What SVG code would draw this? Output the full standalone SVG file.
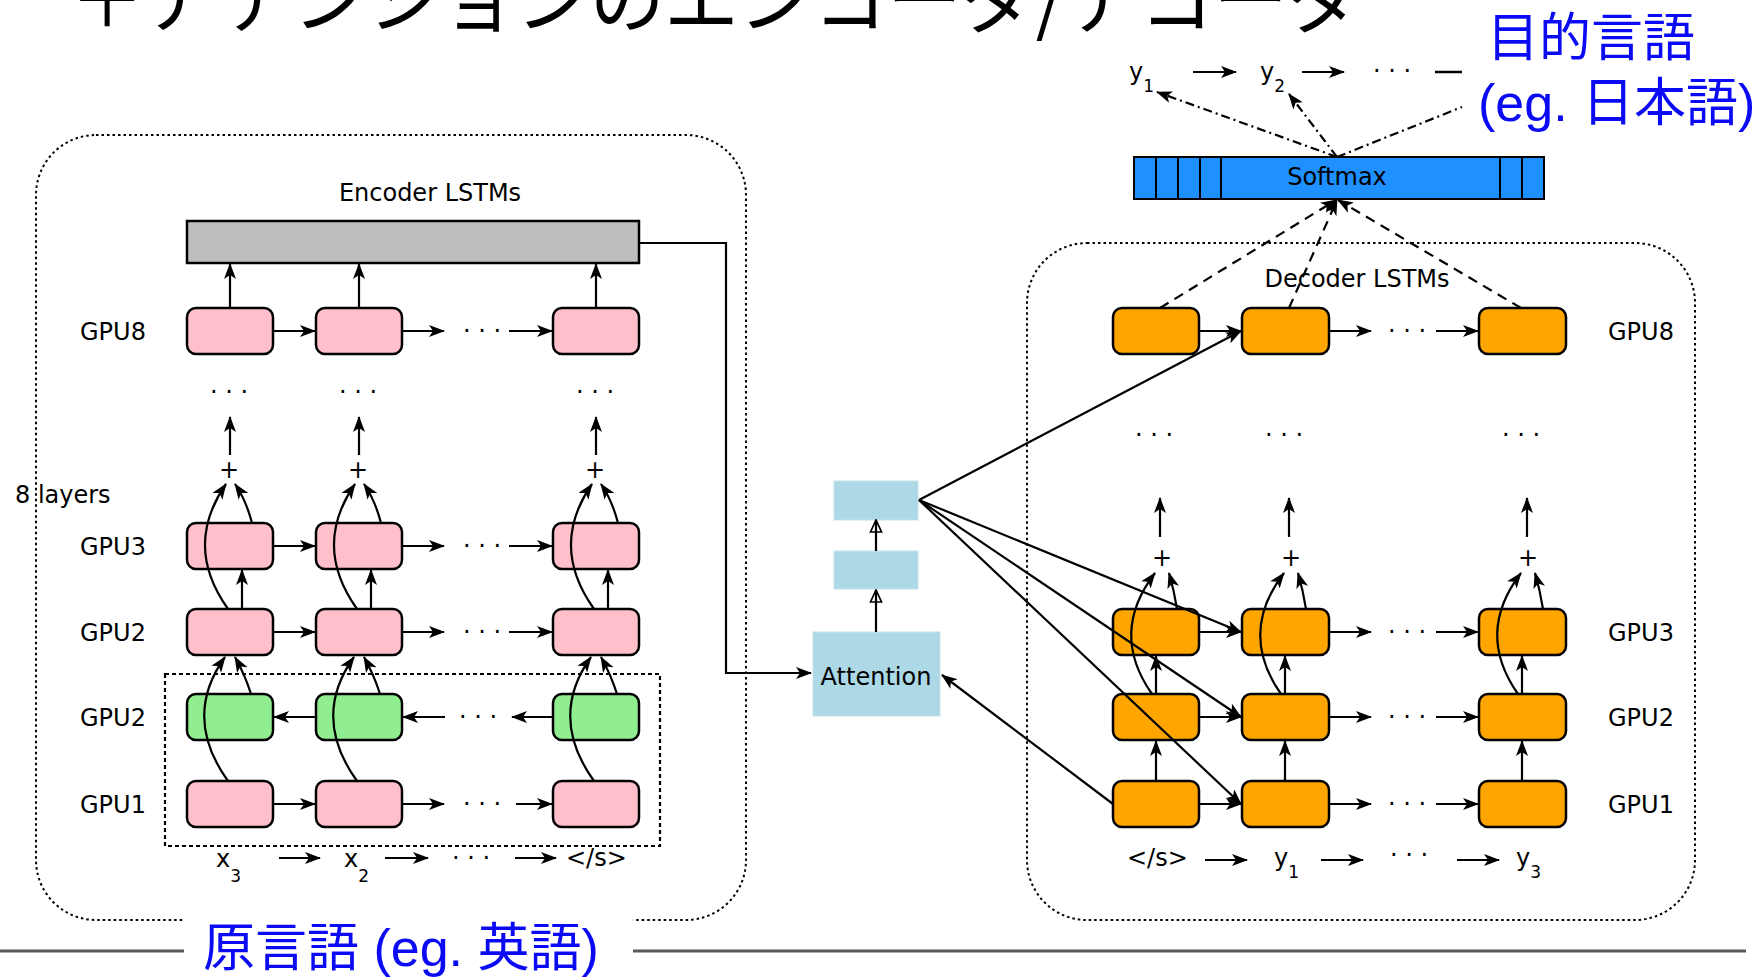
<svg xmlns="http://www.w3.org/2000/svg" width="1760" height="978" viewBox="0 0 1760 978">
<defs>
<style>
.lbl{font-family:"DejaVu Sans",sans-serif;font-size:24px;fill:#000}
.sub{font-size:17px}
.mid{text-anchor:middle}
.title{font-family:"Noto Sans CJK JP",sans-serif;font-size:76px;fill:#000}
.blue{font-family:"Liberation Sans","Noto Sans CJK JP",sans-serif;font-size:52px;fill:#0a0af5}
.pink{fill:#ffc0cb;stroke:#000;stroke-width:2.5}
.green{fill:#90ee90;stroke:#000;stroke-width:2.5}
.orange{fill:#ffa500;stroke:#000;stroke-width:2.5}
.att{fill:#add8e6;stroke:#c3e3ec;stroke-width:1}
.frame{fill:none;stroke:#000;stroke-width:2;stroke-dasharray:2.5 3}
.inner{fill:none;stroke:#000;stroke-width:2.2;stroke-dasharray:4 3}
.c path{fill:none;stroke:#000;stroke-width:2.2}
.c .a{marker-end:url(#ah)}
.c .o{marker-end:url(#oh)}
.c .dash{stroke-dasharray:10 7}
.c .dd{stroke-dasharray:9 4 2 4}
</style>
<marker id="ah" viewBox="0 0 16 12" refX="15" refY="6" markerWidth="16" markerHeight="12" markerUnits="userSpaceOnUse" orient="auto">
<path d="M0,0 L16,6 L0,12 L4,6 z" fill="#000"/>
</marker>
<marker id="oh" viewBox="0 0 14 14" refX="13" refY="7" markerWidth="14" markerHeight="14" markerUnits="userSpaceOnUse" orient="auto">
<path d="M1,1.5 L13,7 L1,12.5 z" fill="none" stroke="#000" stroke-width="1.7"/>
</marker>
</defs>

<rect width="1760" height="978" fill="#fff"/>

<!-- title -->
<text class="title" x="70" y="27" textLength="1292" lengthAdjust="spacingAndGlyphs">＋アテンションのエンコーダ/デコーダ</text>

<!-- encoder frame -->
<g id="encoder-frame">
<rect class="frame" x="36" y="135" width="710" height="785" rx="60" ry="60"/>
<rect class="inner" x="165" y="674" width="495" height="172"/>
<text class="lbl mid" x="430" y="201">Encoder LSTMs</text>
<text class="lbl" x="15" y="503">8 layers</text>
</g>

<!-- decoder frame -->
<g id="decoder-frame">
<rect class="frame" x="1027" y="243" width="668" height="677" rx="60" ry="60"/>
<text class="lbl mid" x="1357" y="287">Decoder LSTMs</text>
</g>

<!-- encoder row labels -->
<g id="enc-labels">
<text class="lbl" x="80" y="340">GPU8</text>
<text class="lbl" x="80" y="555">GPU3</text>
<text class="lbl" x="80" y="641">GPU2</text>
<text class="lbl" x="80" y="726">GPU2</text>
<text class="lbl" x="80" y="813">GPU1</text>
</g>

<!-- decoder row labels -->
<g id="dec-labels">
<text class="lbl" x="1608" y="340">GPU8</text>
<text class="lbl" x="1608" y="641">GPU3</text>
<text class="lbl" x="1608" y="726">GPU2</text>
<text class="lbl" x="1608" y="813">GPU1</text>
</g>

<!-- encoder output bar -->
<g id="enc-output">
<rect x="187" y="221" width="452" height="42" fill="#bebebe" stroke="#000" stroke-width="2.5"/>
</g>

<!-- encoder cells -->
<g id="enc-gpu8">
<rect class="pink" x="187" y="308" width="86" height="46" rx="9"/>
<rect class="pink" x="316" y="308" width="86" height="46" rx="9"/>
<rect class="pink" x="553" y="308" width="86" height="46" rx="9"/>
</g>
<g id="enc-gpu3">
<rect class="pink" x="187" y="523" width="86" height="46" rx="9"/>
<rect class="pink" x="316" y="523" width="86" height="46" rx="9"/>
<rect class="pink" x="553" y="523" width="86" height="46" rx="9"/>
</g>
<g id="enc-gpu2">
<rect class="pink" x="187" y="609" width="86" height="46" rx="9"/>
<rect class="pink" x="316" y="609" width="86" height="46" rx="9"/>
<rect class="pink" x="553" y="609" width="86" height="46" rx="9"/>
</g>
<g id="enc-gpu2-backward">
<rect class="green" x="187" y="694" width="86" height="46" rx="9"/>
<rect class="green" x="316" y="694" width="86" height="46" rx="9"/>
<rect class="green" x="553" y="694" width="86" height="46" rx="9"/>
</g>
<g id="enc-gpu1">
<rect class="pink" x="187" y="781" width="86" height="46" rx="9"/>
<rect class="pink" x="316" y="781" width="86" height="46" rx="9"/>
<rect class="pink" x="553" y="781" width="86" height="46" rx="9"/>
</g>

<!-- decoder cells -->
<g id="dec-gpu8">
<rect class="orange" x="1113" y="308" width="86" height="46" rx="9"/>
<rect class="orange" x="1242" y="308" width="87" height="46" rx="9"/>
<rect class="orange" x="1479" y="308" width="87" height="46" rx="9"/>
</g>
<g id="dec-gpu3">
<rect class="orange" x="1113" y="609" width="86" height="46" rx="9"/>
<rect class="orange" x="1242" y="609" width="87" height="46" rx="9"/>
<rect class="orange" x="1479" y="609" width="87" height="46" rx="9"/>
</g>
<g id="dec-gpu2">
<rect class="orange" x="1113" y="694" width="86" height="46" rx="9"/>
<rect class="orange" x="1242" y="694" width="87" height="46" rx="9"/>
<rect class="orange" x="1479" y="694" width="87" height="46" rx="9"/>
</g>
<g id="dec-gpu1">
<rect class="orange" x="1113" y="781" width="86" height="46" rx="9"/>
<rect class="orange" x="1242" y="781" width="87" height="46" rx="9"/>
<rect class="orange" x="1479" y="781" width="87" height="46" rx="9"/>
</g>

<!-- attention -->
<g id="attention">
<rect class="att" x="813" y="632" width="127" height="84"/>
<text class="lbl mid" x="876" y="685">Attention</text>
</g>
<g id="attention-hidden">
<rect class="att" x="834" y="551" width="84" height="38"/>
</g>
<g id="attention-context">
<rect class="att" x="834" y="481" width="84" height="39"/>
</g>

<!-- softmax -->
<g id="softmax">
<rect x="1134" y="157" width="410" height="42" fill="#1e90ff" stroke="#000" stroke-width="2"/>
<path d="M1156,157V199M1178,157V199M1200,157V199M1221,157V199M1500,157V199M1522,157V199" stroke="#000" stroke-width="2"/>
<text class="lbl mid" x="1337" y="185">Softmax</text>
</g>

<!-- sums and ellipses -->
<g id="enc-residual-marks" class="lbl">
<text class="mid" x="229" y="478">+</text>
<text class="mid" x="358" y="478">+</text>
<text class="mid" x="595" y="478">+</text>
<text class="mid" x="229" y="400">· · ·</text>
<text class="mid" x="358" y="400">· · ·</text>
<text class="mid" x="595" y="400">· · ·</text>
<text class="mid" x="482" y="339">· · ·</text>
<text class="mid" x="482" y="554">· · ·</text>
<text class="mid" x="482" y="640">· · ·</text>
<text class="mid" x="478" y="725">· · ·</text>
<text class="mid" x="482" y="812">· · ·</text>
</g>
<g id="dec-residual-marks" class="lbl">
<text class="mid" x="1162" y="566">+</text>
<text class="mid" x="1291" y="566">+</text>
<text class="mid" x="1528" y="566">+</text>
<text class="mid" x="1154" y="443">· · ·</text>
<text class="mid" x="1284" y="443">· · ·</text>
<text class="mid" x="1521" y="443">· · ·</text>
<text class="mid" x="1407" y="339">· · ·</text>
<text class="mid" x="1407" y="640">· · ·</text>
<text class="mid" x="1407" y="725">· · ·</text>
<text class="mid" x="1407" y="812">· · ·</text>
</g>

<!-- input / output token sequences -->
<g id="source-tokens" class="lbl">
<text x="216" y="867">x<tspan class="sub" dy="15">3</tspan></text>
<text x="344" y="867">x<tspan class="sub" dy="15">2</tspan></text>
<text class="mid" x="471" y="866">· · ·</text>
<text x="566" y="866">&lt;/s&gt;</text>
</g>
<g id="decoder-tokens" class="lbl">
<text x="1127" y="866">&lt;/s&gt;</text>
<text x="1274" y="866">y<tspan class="sub" dy="12">1</tspan></text>
<text class="mid" x="1409" y="863">· · ·</text>
<text x="1516" y="866">y<tspan class="sub" dy="12">3</tspan></text>
</g>
<g id="target-tokens" class="lbl">
<text x="1129" y="80">y<tspan class="sub" dy="12">1</tspan></text>
<text x="1260" y="80">y<tspan class="sub" dy="12">2</tspan></text>
<text class="mid" x="1392" y="79">· · ·</text>
</g>

<!-- connectors -->
<g id="connectors" class="c">
<!-- encoder: to output bar -->
<path class="a" d="M230,308V264"/>
<path class="a" d="M359,308V264"/>
<path class="a" d="M596,308V264"/>
<!-- encoder: upward between layers -->
<path class="a" d="M230,455V417"/>
<path class="a" d="M359,455V417"/>
<path class="a" d="M596,455V417"/>
<!-- encoder: horizontal recurrences -->
<path class="a" d="M273,331H315"/>
<path class="a" d="M402,331H444"/>
<path class="a" d="M509,331H552"/>
<path class="a" d="M273,546H315"/>
<path class="a" d="M402,546H444"/>
<path class="a" d="M509,546H552"/>
<path class="a" d="M273,632H315"/>
<path class="a" d="M402,632H444"/>
<path class="a" d="M509,632H552"/>
<path class="a" d="M316,717H274"/>
<path class="a" d="M445,717H403"/>
<path class="a" d="M553,717H512"/>
<path class="a" d="M273,804H315"/>
<path class="a" d="M402,804H444"/>
<path class="a" d="M516,804H552"/>
<!-- encoder: GPU2 -> GPU3 -->
<path class="a" d="M242,609V570"/>
<path class="a" d="M371,609V570"/>
<path class="a" d="M608,609V570"/>
<!-- encoder: residual paths -->
<path class="a" d="M228,609Q183,546 226,484"/>
<path class="a" d="M252,523Q246,500 235,484"/>
<path class="a" d="M357,609Q312,546 355,484"/>
<path class="a" d="M381,523Q375,500 364,484"/>
<path class="a" d="M594,609Q549,546 592,484"/>
<path class="a" d="M618,523Q612,500 601,484"/>
<!-- encoder: bottom two layers into GPU2 -->
<path class="a" d="M228,781Q182,717 225,657"/>
<path class="a" d="M251,694Q245,675 235,657"/>
<path class="a" d="M357,781Q311,717 354,657"/>
<path class="a" d="M380,694Q374,675 364,657"/>
<path class="a" d="M594,781Q548,717 591,657"/>
<path class="a" d="M617,694Q611,675 601,657"/>
<!-- source sequence arrows -->
<path class="a" d="M279,858H320"/>
<path class="a" d="M385,858H428"/>
<path class="a" d="M515,858H556"/>

<!-- encoder states to attention -->
<path class="a" d="M639,243H726V673H811"/>
<!-- attention stack -->
<path class="o" d="M876,632V590"/>
<path class="o" d="M876,551V520"/>
<!-- decoder bottom state queries attention -->
<path class="a" d="M1113,804L942,675"/>
<!-- context vector fed to decoder -->
<path class="a" d="M919,500L1241,331"/>
<path class="a" d="M919,500L1241,632"/>
<path class="a" d="M919,500L1241,717"/>
<path class="a" d="M919,500L1241,804"/>

<!-- decoder: horizontal recurrences -->
<path class="a" d="M1199,331H1241"/>
<path class="a" d="M1329,331H1371"/>
<path class="a" d="M1436,331H1478"/>
<path class="a" d="M1199,632H1241"/>
<path class="a" d="M1329,632H1371"/>
<path class="a" d="M1436,632H1478"/>
<path class="a" d="M1199,717H1241"/>
<path class="a" d="M1329,717H1371"/>
<path class="a" d="M1436,717H1478"/>
<path class="a" d="M1199,804H1241"/>
<path class="a" d="M1329,804H1371"/>
<path class="a" d="M1436,804H1478"/>
<!-- decoder: upward between layers -->
<path class="a" d="M1156,781V741"/>
<path class="a" d="M1285,781V741"/>
<path class="a" d="M1522,781V741"/>
<path class="a" d="M1156,694V656"/>
<path class="a" d="M1285,694V656"/>
<path class="a" d="M1522,694V656"/>
<path class="a" d="M1160,537V498"/>
<path class="a" d="M1289,537V498"/>
<path class="a" d="M1527,537V498"/>
<!-- decoder: residual paths -->
<path class="a" d="M1152,694Q1109,633 1155,573"/>
<path class="a" d="M1177,609Q1174,590 1169,573"/>
<path class="a" d="M1281,694Q1238,633 1284,573"/>
<path class="a" d="M1306,609Q1303,590 1298,573"/>
<path class="a" d="M1518,694Q1475,633 1521,573"/>
<path class="a" d="M1543,609Q1540,590 1535,573"/>
<!-- decoder sequence arrows -->
<path class="a" d="M1205,860H1247"/>
<path class="a" d="M1321,860H1363"/>
<path class="a" d="M1457,860H1499"/>

<!-- top layer to softmax -->
<path class="a dash" d="M1160,308L1336,200"/>
<path class="a dash" d="M1289,308L1337,200"/>
<path class="a dash" d="M1521,308L1338,200"/>
<!-- softmax to output tokens -->
<path class="a dd" d="M1337,157L1157,92"/>
<path class="a dd" d="M1337,157L1289,94"/>
<path class="dd" d="M1337,157L1462,107"/>
<!-- output sequence arrows -->
<path class="a" d="M1193,72H1236"/>
<path class="a" d="M1302,72H1344"/>
<path d="M1435,72H1462" style="stroke-width:2.5"/>
</g>

<!-- language captions -->
<g id="captions">
<path d="M0,951H1746" stroke="#5a5a5a" stroke-width="3"/>
<rect x="184" y="918" width="449" height="60" fill="#fff"/>
<text class="blue" x="203" y="966">原言語 (eg. 英語)</text>
<text class="blue" x="1487" y="56">目的言語</text>
<text class="blue" x="1478" y="121">(eg. 日本語)</text>
</g>
</svg>
